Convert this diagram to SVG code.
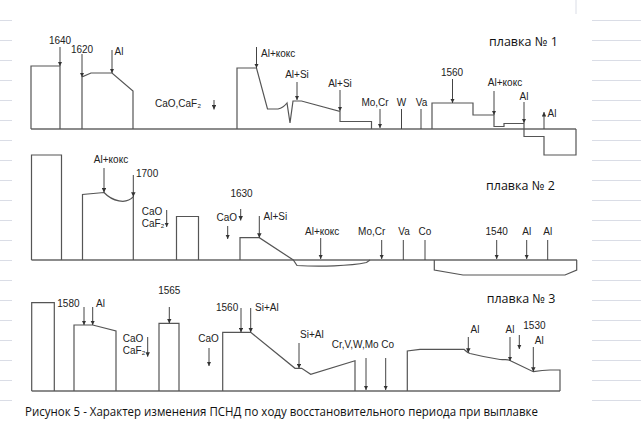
<svg xmlns="http://www.w3.org/2000/svg" width="641" height="421" viewBox="0 0 641 421">
<style>
.ln{fill:none;stroke:#555;stroke-width:1.2;stroke-linejoin:miter}
.bl{fill:none;stroke:#666;stroke-width:1.4}
.ar{fill:none;stroke:#444;stroke-width:1;marker-end:url(#ah)}
.pl{fill:none;stroke:#444;stroke-width:1}
.t{font-family:"Liberation Sans",Arial,sans-serif;font-size:10px;fill:#222}
.m{text-anchor:middle}
.h{font-family:"Open Sans","Noto Sans",sans-serif;font-size:12.5px;fill:#111}
.cap{font-family:"Open Sans","Noto Sans",sans-serif;font-size:12.5px;fill:#111}
.g{stroke:#dadde6;stroke-width:1}
</style>
<defs>
<marker id="ah" viewBox="0 0 6 6" refX="6" refY="3" markerWidth="4.5" markerHeight="4.5" markerUnits="userSpaceOnUse" orient="auto">
<path d="M0,0 L6,3 L0,6 Z" fill="#333"/>
</marker>
</defs>
<rect width="641" height="421" fill="#fff"/>
<g id="grid">
<path class="g" d="M0,20.5H12M0,40.5H12M0,60.5H12M0,80.5H12M0,100.5H12M0,120.5H12M0,140.5H12M0,160.5H12M0,180.5H12M0,200.5H12M0,220.5H12M0,240.5H12M0,260.5H12M0,280.5H12M0,300.5H12M0,320.5H12M0,340.5H12M0,360.5H12M0,380.5H12M0,400.5H12"/>
<path class="g" d="M592,20.5H641M592,40.5H641M592,60.5H641M592,80.5H641M592,100.5H641M592,120.5H641M592,140.5H641M592,160.5H641M592,180.5H641M592,200.5H641M592,220.5H641M592,240.5H641M592,260.5H641M592,280.5H641M592,300.5H641M592,320.5H641M592,340.5H641M592,360.5H641M592,380.5H641M592,400.5H641"/>
<path class="g" d="M576,0V14"/>
</g>

<g id="row1">
<path class="bl" d="M31,129H576"/>
<path class="ln" d="M31,129V66H60V129"/>
<path class="ln" d="M82,129V77L91,73H112L133,91V129"/>
<path class="ln" d="M237,129V68H256.5L267.5,109H278Q283,108 287,103L290,123L293,101H301.5L340,111.5V121.5H371.5V129"/>
<path class="ln" d="M432,129V103H473V115H494V126.5H504V123.5H524V136.5H544V155H576V129"/>
</g>
<g id="row2">
<path class="bl" d="M31.5,260H577"/>
<path class="ln" d="M31.5,260V155H61.5V260"/>
<path class="ln" d="M82.5,260V194.5L104,192.5C112,201 126,205 133.3,196.7V260"/>
<path class="ln" d="M176.5,260V216.5H198.5V260"/>
<path class="ln" d="M240,260V237.7H259.3L293.3,260L297,265.5C320,267 350,266 366.5,262.5L370,260"/>
<path class="ln" d="M434.3,260V270L463,275H565L576.7,270V260"/>
</g>
<g id="row3">
<path class="bl" d="M31.7,391H560"/>
<path class="ln" d="M31.7,391V302.7H54.3V391"/>
<path class="ln" d="M74,391V325H92.7L116,331V391"/>
<path class="ln" d="M159,391V323.3H179V391"/>
<path class="ln" d="M222.7,391V332.3H250.7L295,368.3H301.7L310.7,374.3L355,360.7V391"/>
<path class="ln" d="M407.3,391V351L420,349.3H464C466,351 467,352.5 470,353.5C480,356 490,358 500,359.5C505,360 508,358.5 511,361L533.3,371.7C540,370.5 545,370 550,370H560V391"/>
</g>

<g id="connectors">
<path class="ar" d="M60,47V66"/>
<path class="ar" d="M82,54V77"/>
<path class="ar" d="M112,50V73"/>
<path class="ar" d="M214,100V109.5"/>
<path class="ar" d="M256.5,47V68"/>
<path class="ar" d="M297,82V100"/>
<path class="ar" d="M340,90V111"/>
<path class="ar" d="M380,109V128"/>
<path class="pl" d="M401.5,109V129"/>
<path class="pl" d="M421,109V129"/>
<path class="ar" d="M452.5,79V103"/>
<path class="ar" d="M494,91V115"/>
<path class="ar" d="M524,102V123"/>
<path class="ar" d="M544,129V112"/>
<path class="ar" d="M104,168V192.5"/>
<path class="ar" d="M133.3,175V196.7"/>
<path class="ar" d="M166.7,210V227"/>
<path class="ar" d="M240.7,209V220.5"/>
<path class="ar" d="M227.7,226V239"/>
<path class="ar" d="M259.3,216V237.7"/>
<path class="ar" d="M320.7,238V259"/>
<path class="ar" d="M381.7,240V259"/>
<path class="pl" d="M403.3,240V260"/>
<path class="pl" d="M425,240V260"/>
<path class="ar" d="M496.7,240V259"/>
<path class="ar" d="M526.7,240V259"/>
<path class="pl" d="M547.7,240V260"/>
<path class="ar" d="M84,307V325"/>
<path class="ar" d="M92.7,307V325"/>
<path class="ar" d="M147.7,337V356.7"/>
<path class="ar" d="M169.3,307V323.3"/>
<path class="ar" d="M209,348V366"/>
<path class="ar" d="M241,308V332.3"/>
<path class="ar" d="M250.7,308V332.3"/>
<path class="ar" d="M299,343V368.3"/>
<path class="ar" d="M366,358V390"/>
<path class="ar" d="M385.7,358V390"/>
<path class="ar" d="M468.3,337V352.7"/>
<path class="ar" d="M510,337V361"/>
<path class="ar" d="M519.3,335V349"/>
<path class="ar" d="M533.3,347V371.7"/>
</g>

<g id="labels1">
<text class="t m" x="60" y="44">1640</text>
<text class="t m" x="82" y="52.5">1620</text>
<text class="t" x="114.5" y="55">Al</text>
<text class="t" x="155" y="107">CaO,CaF₂</text>
<text class="t" x="261" y="57">Al+кокс</text>
<text class="t m" x="297" y="78">Al+Si</text>
<text class="t m" x="340" y="86.5">Al+Si</text>
<text class="t m" x="375" y="106">Mo,Cr</text>
<text class="t m" x="401.5" y="106">W</text>
<text class="t m" x="421.5" y="106">Va</text>
<text class="t m" x="452" y="76">1560</text>
<text class="t m" x="505" y="86">Al+кокс</text>
<text class="t m" x="524" y="100">Al</text>
<text class="t" x="547.5" y="117">Al</text>
<text class="h" x="489" y="46">плавка № 1</text>
</g>
<g id="labels2">
<text class="t m" x="111" y="163.3">Al+кокс</text>
<text class="t" x="136" y="176.5">1700</text>
<text class="t" x="141.7" y="215">CaO</text>
<text class="t" x="141.7" y="226.7">CaF₂</text>
<text class="t m" x="241.5" y="196.5">1630</text>
<text class="t" x="216.5" y="220.5">CaO</text>
<text class="t" x="263.5" y="220">Al+Si</text>
<text class="t" x="305" y="235">Al+кокс</text>
<text class="t m" x="371.7" y="235">Mo,Cr</text>
<text class="t m" x="404" y="235">Va</text>
<text class="t m" x="425" y="235">Co</text>
<text class="t m" x="496.7" y="235">1540</text>
<text class="t m" x="526.7" y="235">Al</text>
<text class="t m" x="547.7" y="235">Al</text>
<text class="h" x="486" y="190">плавка № 2</text>
</g>
<g id="labels3">
<text class="t" x="57.3" y="306.7">1580</text>
<text class="t" x="96" y="306.7">Al</text>
<text class="t" x="122.7" y="341.7">CaO</text>
<text class="t" x="122.7" y="354">CaF₂</text>
<text class="t m" x="169.3" y="294">1565</text>
<text class="t" x="198.3" y="342.3">CaO</text>
<text class="t" x="216" y="310.7">1560</text>
<text class="t" x="255" y="310.7">Si+Al</text>
<text class="t" x="300" y="338.3">Si+Al</text>
<text class="t" x="331.7" y="348.3">Cr,V,W,Mo Co</text>
<text class="t m" x="475" y="333.3">Al</text>
<text class="t m" x="510" y="333.3">Al</text>
<text class="t" x="523.3" y="329.3">1530</text>
<text class="t m" x="539.3" y="344">Al</text>
<text class="h" x="486.7" y="303.3">плавка № 3</text>
</g>
<text class="cap" x="25" y="416" textLength="513" lengthAdjust="spacingAndGlyphs">Рисунок 5 - Характер  изменения ПСНД по ходу восстановительного периода при выплавке</text>
</svg>
